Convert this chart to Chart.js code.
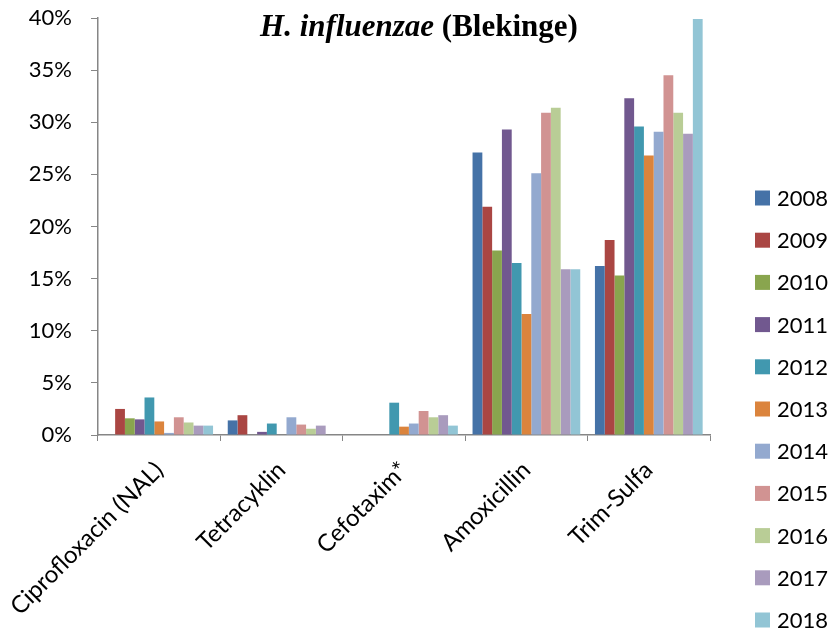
<!DOCTYPE html>
<html>
<head>
<meta charset="utf-8">
<script src="https://cdn.jsdelivr.net/npm/chart.js@4"></script>
<style>
  body { margin: 0; background: #fff; }
  #wrap { width: 834px; height: 630px; }
</style>
</head>
<body>
<div id="wrap"><canvas id="chart"></canvas></div>
<script>
// data, läst från bilden (procent)
const categories = ['Ciprofloxacin (NAL)', 'Tetracyklin', 'Cefotaxim*', 'Amoxicillin', 'Trim-Sulfa'];
const years = ['2008', '2009', '2010', '2011', '2012', '2013', '2014', '2015', '2016', '2017', '2018'];
const yTicks = [0, 5, 10, 15, 20, 25, 30, 35, 40];

const v2008 = [0, 1.4, 0, 27.1, 16.2];
const v2009 = [2.5, 1.9, 0, 21.9, 18.7];
const v2010 = [1.6, 0, 0, 17.7, 15.3];
const v2011 = [1.5, 0.3, 0, 29.3, 32.3];
const v2012 = [3.6, 1.1, 3.1, 16.5, 29.6];
const v2013 = [1.3, 0, 0.8, 11.6, 26.8];
const v2014 = [0.2, 1.7, 1.1, 25.1, 29.1];
const v2015 = [1.7, 1.0, 2.3, 30.9, 34.5];
const v2016 = [1.2, 0.6, 1.7, 31.4, 30.9];
const v2017 = [0.9, 0.9, 1.9, 15.9, 28.9];
const v2018 = [0.9, 0, 0.9, 15.9, 39.9];

const values = [v2008, v2009, v2010, v2011, v2012, v2013, v2014, v2015, v2016, v2017, v2018];
const colors = ['#4572A7', '#AA4643', '#89A54E', '#71588F', '#4198AF', '#DB843D',
                '#93A9CF', '#D19392', '#B9CD96', '#A99BBD', '#92C5D5'];

const datasets = years.map((y, i) => ({
  label: y,
  data: values[i],
  backgroundColor: colors[i],
  borderWidth: 0,
  categoryPercentage: 0.88,
  barPercentage: 1
}));

// titel med kursiv del
const titlePlugin = {
  id: 'titel',
  afterDraw(chart) {
    const ctx = chart.ctx;
    const a = 'H. influenzae';
    const b = ' (Blekinge)';
    ctx.save();
    ctx.fillStyle = '#000';
    ctx.textBaseline = 'alphabetic';
    ctx.font = 'italic bold 31px "Liberation Serif"';
    const wa = ctx.measureText(a).width;
    ctx.font = 'bold 31px "Liberation Serif"';
    const wb = ctx.measureText(b).width;
    let x = 419 - (wa + wb) / 2;
    ctx.font = 'italic bold 31px "Liberation Serif"';
    ctx.fillText(a, x, 36);
    ctx.font = 'bold 31px "Liberation Serif"';
    ctx.fillText(b, x + wa, 36);
    ctx.restore();
  }
};

// legend till höger
const legendPlugin = {
  id: 'legend',
  afterDraw(chart) {
    const ctx = chart.ctx;
    ctx.save();
    ctx.font = '22px Lato';
    ctx.textBaseline = 'middle';
    chart.data.datasets.forEach((ds, i) => {
      const y = 198 + i * 42.2;
      ctx.fillStyle = ds.backgroundColor;
      ctx.fillRect(755, y - 7.5, 15, 15);
      ctx.fillStyle = '#000';
      ctx.fillText(ds.label, 777, y + 1);
    });
    ctx.restore();
  }
};

const chart = new Chart(document.getElementById('chart'), {
  type: 'bar',
  data: { labels: categories, datasets: datasets },
  options: {
    responsive: true,
    maintainAspectRatio: false,
    animation: false,
    layout: { padding: { top: 18, right: 124, left: 0, bottom: 0 } },
    plugins: {
      legend: { display: false },
      tooltip: { enabled: false }
    },
    scales: {
      x: {
        offset: true,
        grid: { offset: true, drawOnChartArea: false, tickLength: 6, color: '#868686' },
        border: { color: '#868686', width: 1.5 },
        ticks: {
          minRotation: 45, maxRotation: 45, padding: 15,
          color: '#000', font: { family: 'Lato', size: 24 }
        },
        afterFit: (s) => {
          s.height = 195;
          s.paddingLeft = 0;
          s.paddingRight = 0;
        }
      },
      y: {
        min: 0, max: 40,
        afterBuildTicks: (s) => { s.ticks = yTicks.map(v => ({ value: v })); },
        grid: { drawOnChartArea: false, tickLength: 7, color: '#868686' },
        border: { color: '#868686', width: 1.5 },
        ticks: {
          padding: 19,
          color: '#000', font: { family: 'Lato', size: 22 },
          callback: (v) => v + '%'
        },
        afterFit: (s) => {
          s.width = 98;
          s.paddingTop = 0;
          s.paddingBottom = 0;
        }
      }
    }
  },
  plugins: [titlePlugin, legendPlugin]
});
</script>
</body>
</html>
